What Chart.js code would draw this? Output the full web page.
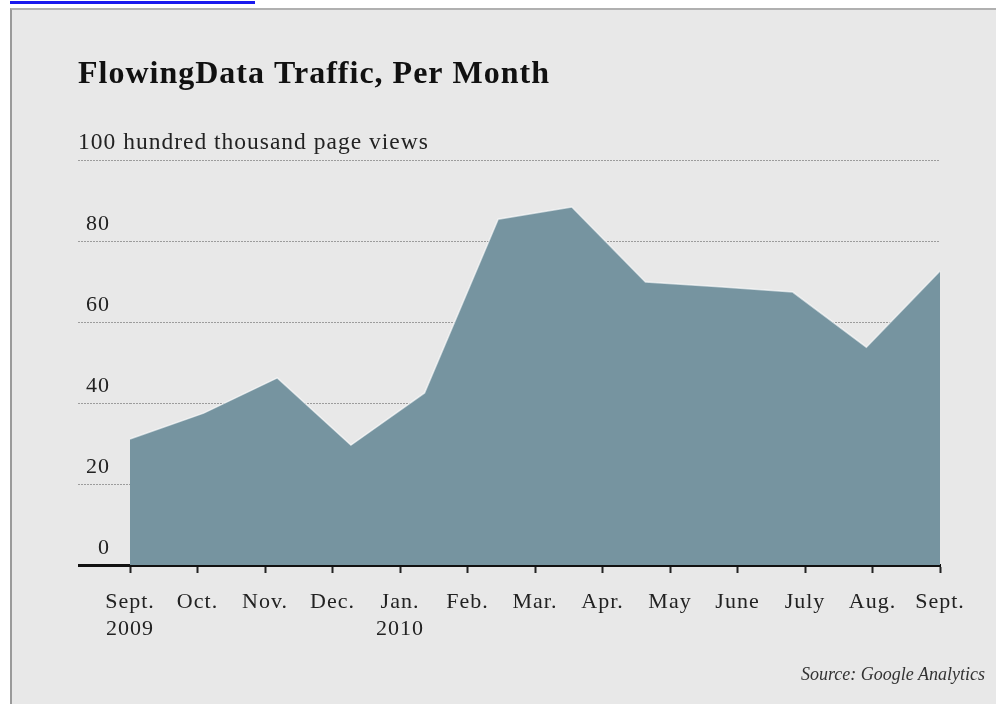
<!DOCTYPE html>
<html>
<head>
<meta charset="utf-8">
<script src="https://cdn.jsdelivr.net/npm/chart.js@4.4.1/dist/chart.umd.min.js"></script>
<style>
  html, body { margin: 0; padding: 0; background: #fff; }
  #wrap { position: relative; width: 996px; height: 704px; overflow: hidden; }
  #link { position: absolute; left: 10px; top: 1px; width: 245px; height: 3px; background: #1a1aee; }
  #panel { position: absolute; left: 10px; top: 8px; width: 990px; height: 700px;
           background: #e8e8e8; border-left: 2px solid #9a9a9a; border-top: 2px solid #b0b0b0; }
  #chart { position: absolute; left: 0; top: 0; }
  #source { position: absolute; right: 11px; top: 664px; font: italic 18px "Liberation Serif", serif; color: #333; }
</style>
</head>
<body>
<div id="wrap">
  <div id="link"></div>
  <div id="panel"></div>
  <canvas id="chart" width="996" height="704"></canvas>
  <div id="source">Source: Google Analytics</div>
</div>
<script>
// Monthly page views, in hundred thousands (12 points)
const pointLabels = ['Sept. 2009', 'Oct. 2009', 'Nov. 2009', 'Dec. 2009', 'Jan. 2010', 'Feb. 2010',
                     'Mar. 2010', 'Apr. 2010', 'May 2010', 'June 2010', 'July 2010', 'Aug. 2010'];
const pageViews = [31.1, 37.5, 46.2, 29.6, 42.5, 85.4, 88.4, 69.9, 68.7, 67.4, 53.8, 72.6];

// Month tick labels along the bottom (13 ticks)
const monthTicks = [['Sept.', '2009'], 'Oct.', 'Nov.', 'Dec.', ['Jan.', '2010'], 'Feb.', 'Mar.',
                    'Apr.', 'May', 'June', 'July', 'Aug.', 'Sept.'];

// y axis ticks; the top one is labelled by the subtitle line
const yTicks = [0, 20, 40, 60, 80, 100];
const yTopLabel = '100 hundred thousand page views';

Chart.defaults.font.family = '"Liberation Serif", serif';
Chart.defaults.color = '#222';

// the original face is wider than Liberation Serif, so space the letters a bit
const letterSpacing = {
    id: 'letterSpacing',
    beforeUpdate(chart) { chart.ctx.letterSpacing = '1px'; },
    beforeDraw(chart) { chart.ctx.letterSpacing = '1px'; }
};

const isZero = c => c.tick && c.tick.value === 0;

const ctx = document.getElementById('chart').getContext('2d');
new Chart(ctx, {
    type: 'line',
    data: {
        labels: pointLabels,
        datasets: [{
            label: 'Page views',
            data: pageViews,
            xAxisID: 'x',
            fill: 'origin',
            backgroundColor: '#7694a0',
            borderColor: 'rgba(255,255,255,0.6)',
            borderWidth: 1.5,
            pointRadius: 0,
            tension: 0
        }]
    },
    plugins: [letterSpacing],
    options: {
        responsive: false,
        animation: false,
        layout: { padding: { left: 78, top: 40, right: 56, bottom: 46 } },
        plugins: {
            legend: { display: false },
            tooltip: { enabled: false },
            title: {
                display: true,
                text: 'FlowingData Traffic, Per Month',
                align: 'start',
                color: '#111',
                font: { size: 32, weight: 'bold' },
                padding: { top: 16, bottom: 10 }
            },
            subtitle: {
                display: true,
                text: yTopLabel,
                align: 'start',
                color: '#222',
                font: { size: 23.5 },
                padding: { top: 24.5, bottom: 3 }
            }
        },
        scales: {
            x: {
                type: 'category',
                display: false,
                offset: false
            },
            months: {
                type: 'category',
                axis: 'x',
                position: 'bottom',
                labels: monthTicks,
                offset: false,
                grid: { drawOnChartArea: false, drawTicks: true, tickLength: 8, tickColor: '#222', tickWidth: 2 },
                border: { display: true, color: '#111', width: 3 },
                ticks: { autoSkip: false, maxRotation: 0, padding: 15, font: { size: 22, lineHeight: 1.25 }, color: '#222' }
            },
            y: {
                min: 0,
                max: 100,
                afterBuildTicks: scale => { scale.ticks = yTicks.map(v => ({ value: v })); },
                afterFit: scale => { scale.width = 52; },
                grid: {
                    color: c => isZero(c) ? 'rgba(0,0,0,0)' : '#9c9c9c',
                    lineWidth: 1,
                    drawTicks: true,
                    tickLength: 52,
                    tickColor: c => isZero(c) ? '#111' : '#9c9c9c',
                    tickWidth: c => isZero(c) ? 3 : 1,
                    tickBorderDash: c => isZero(c) ? [] : [2, 1]
                },
                border: { display: false, dash: [2, 1] },
                ticks: {
                    crossAlign: 'near',
                    padding: -32,
                    labelOffset: -17,
                    font: { size: 22 },
                    color: '#222',
                    callback: v => v === 100 ? '' : v
                }
            }
        }
    }
});
</script>
</body>
</html>
